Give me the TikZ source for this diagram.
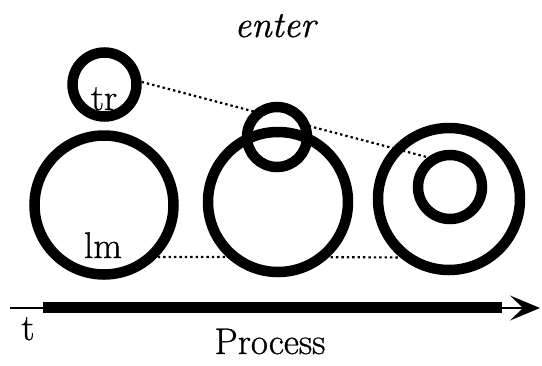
\documentclass[tikz,border=0pt]{standalone}
\usepackage{fontspec}
\newfontfamily\lmheavy{Latin Modern Roman}[FakeBold=0.8]
\usetikzlibrary{arrows.meta,backgrounds}
\tikzset{
  ring/.style={circle, draw=black, line width=10.5pt, inner sep=0pt, minimum size=#1},
  lbl/.style={anchor=base, inner sep=0pt, font=\lmheavy\fontsize{37}{40}\selectfont},
  dotline/.style={line width=2.2pt, dash pattern=on 2.4pt off 3pt, black},
}
\begin{document}
\begin{tikzpicture}[x=1pt,y=-1pt]
\useasboundingbox (0,0) rectangle (542,365);
% circles
\node[ring=64pt]  (tr)     at (104.5,84.5) {};
\node[ring=139pt] (lm)     at (104,205) {};
\node[ring=140pt] (mbig)   at (278,202) {};
\node[ring=60pt]  (msmall) at (277,137) {};
\node[ring=142pt] (rbig)   at (449,199) {};
\node[ring=64pt]  (rin)    at (450,187) {};
% labels
\node[lbl, font=\lmheavy\fontsize{37}{40}\selectfont\itshape] (enter) at (275,37) {enter};
\node[lbl] (trl) at (104,110) {tr};
\node[lbl] (lml) at (103,258) {lm};
\node[lbl] (tl) at (28,340) {t};
\node[lbl] (proc) at (270,354) {Process};
% dotted connectors behind the rings
\begin{pgfonlayer}{background}
  \draw[dotline] (tr.4) -- (rin.127);
  \draw[dotline] (lm.-44) -- (rbig.230);
  \fill[white] (mbig.center) circle[radius=65pt];
  \fill[white] (msmall.center) circle[radius=25pt];
\end{pgfonlayer}
% time axis
\coordinate (tstart) at (10,308);
\coordinate (tip) at (540,308);
\coordinate (barA) at (43,307.5);
\coordinate (barB) at (502,307.5);
\draw[line width=11pt] (barA) -- (barB);
\draw[line width=1.6pt, -{Stealth[length=30pt,width=25pt,inset=13pt]}] (tstart) -- (tip);
\end{tikzpicture}
\end{document}
